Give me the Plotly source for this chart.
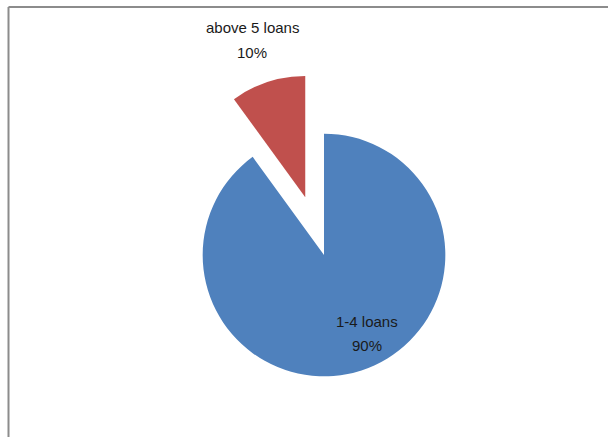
import plotly.graph_objects as go

labels = ["1-4 loans", "above 5 loans"]
values = [90, 10]
colors = ["#4F81BD", "#C0504D"]
pulls = [0, 0.5]

W, H = 608, 437
cx_px, cy_px = 324, 255
box = 2 * (H - cy_px)  # square box for the pie, touching the bottom
x0 = (cx_px - box / 2) / W
x1 = (cx_px + box / 2) / W

fig = go.Figure(
    go.Pie(
        labels=labels,
        values=values,
        marker=dict(colors=colors, line=dict(width=0)),
        sort=False,
        direction="clockwise",
        rotation=0,
        pull=pulls,
        textinfo="none",
        automargin=False,
        showlegend=False,
        domain=dict(x=[x0, x1], y=[0, box / H]),
        hoverinfo="label+percent",
    )
)

# data labels (text from the data, placed like the original)
total = sum(values)
label_pos = {  # (x_px, y_px of line 1 centre, y_px of line 2 centre)
    "1-4 loans": (367, 321, 345),
    "above 5 loans": (252, 27, 53),
}
font = dict(family="Liberation Sans, Arial, sans-serif", size=15, color="#1a1a1a")
annotations = []
for lab, val in zip(labels, values):
    px, py1, py2 = label_pos[lab]
    pct = f"{round(100 * val / total)}%"
    for txt, py in ((lab, py1), (pct, py2)):
        annotations.append(dict(
            x=px / W, y=1 - py / H, xref="paper", yref="paper",
            text=txt, showarrow=False, xanchor="center", yanchor="middle",
            font=font,
        ))

fig.update_layout(
    width=W,
    height=H,
    autosize=False,
    margin=dict(l=0, r=0, t=0, b=0, pad=0, autoexpand=False),
    paper_bgcolor="white",
    plot_bgcolor="white",
    annotations=annotations,
    shapes=[
        dict(type="line", xref="paper", yref="paper", x0=8.5 / W, x1=1.0, y0=1 - 7 / H, y1=1 - 7 / H,
             line=dict(color="#8c8c8c", width=2)),
        dict(type="line", xref="paper", yref="paper", x0=8.5 / W, x1=8.5 / W, y0=0, y1=1 - 7 / H,
             line=dict(color="#8c8c8c", width=2)),
    ],
)

fig.write_html("out.html", config={"displayModeBar": False},
               post_script="document.body.style.margin='0px';")
